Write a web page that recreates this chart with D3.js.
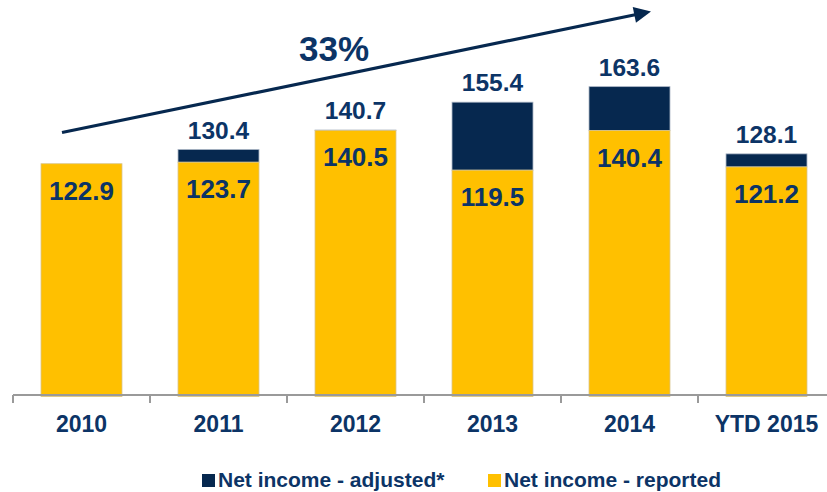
<!DOCTYPE html>
<html>
<head>
<meta charset="utf-8">
<script src="https://cdn.jsdelivr.net/npm/d3@7"></script>
<style>
  html, body { margin: 0; padding: 0; background: #fff; }
  svg { display: block; font-family: "Liberation Sans", Arial, sans-serif; }
</style>
</head>
<body>
<svg id="chart" width="827" height="492"></svg>
<script>
// Net income by year, in millions
const years = ["2010", "2011", "2012", "2013", "2014", "YTD 2015"];
const reported = [122.9, 123.7, 140.5, 119.5, 140.4, 121.2];
const adjusted = [null, 130.4, 140.7, 155.4, 163.6, 128.1];
const growthLabel = "33%";
const legendLabels = ["Net income - adjusted*", "Net income - reported"];

const NAVY = "#06284f";
const YELLOW = "#ffc000";
const TEXT = "#0c3466";

const svg = d3.select("#chart");

const x = d3.scaleBand()
  .domain(years)
  .range([13, 835])
  .paddingInner(0.409)
  .paddingOuter(0.2045);

const y = d3.scaleLinear().domain([0, 200]).range([396.5, 17.7]);

const rows = years.map((yr, i) => ({ yr, rep: reported[i], adj: adjusted[i] }));

// adjusted portion on top of reported
svg.append("g").selectAll("rect")
  .data(rows.filter(d => d.adj != null))
  .join("rect")
  .attr("x", d => x(d.yr))
  .attr("width", x.bandwidth())
  .attr("y", d => y(d.adj))
  .attr("height", d => y(d.rep) - y(d.adj))
  .attr("fill", NAVY)
  .attr("stroke", "#a9b4c4")
  .attr("stroke-width", 0.8);

// reported bars
svg.append("g").selectAll("rect")
  .data(rows)
  .join("rect")
  .attr("x", d => x(d.yr))
  .attr("width", x.bandwidth())
  .attr("y", d => y(d.rep))
  .attr("height", d => y(0) - y(d.rep))
  .attr("fill", YELLOW)
  .attr("stroke", "#d9c48a")
  .attr("stroke-width", 0.8);

// axis baseline with ticks at category boundaries
const step = x.step();
const gap = step * x.paddingInner() / 2;
const axisY = 395;
svg.append("line")
  .attr("x1", x(years[0]) - gap).attr("x2", 827)
  .attr("y1", axisY).attr("y2", axisY)
  .attr("stroke", "#9a9a9a").attr("stroke-width", 2);
svg.append("g").selectAll("line")
  .data(years)
  .join("line")
  .attr("x1", d => x(d) - gap).attr("x2", d => x(d) - gap)
  .attr("y1", axisY).attr("y2", axisY + 8)
  .attr("stroke", "#9a9a9a").attr("stroke-width", 2);

// category labels
const xAxis = svg.append("g")
  .attr("transform", `translate(0,${axisY})`)
  .call(d3.axisBottom(x).tickSize(0).tickPadding(0));
xAxis.select(".domain").remove();
xAxis.selectAll("text")
  .attr("y", 37)
  .attr("dy", null)
  .attr("fill", TEXT)
  .style("font-size", "23px")
  .style("font-weight", "bold")
  .style("font-family", "'Liberation Sans', Arial, sans-serif");

// total labels above bars
svg.append("g").selectAll("text")
  .data(rows.filter(d => d.adj != null))
  .join("text")
  .attr("x", d => x(d.yr) + x.bandwidth() / 2)
  .attr("y", d => y(d.adj) - 11)
  .attr("text-anchor", "middle")
  .attr("fill", TEXT)
  .style("font-size", "24.5px")
  .style("font-weight", "bold")
  .text(d => d.adj.toFixed(1));

// reported labels inside bars
svg.append("g").selectAll("text")
  .data(rows)
  .join("text")
  .attr("x", d => x(d.yr) + x.bandwidth() / 2)
  .attr("y", d => y(d.rep) + 36)
  .attr("text-anchor", "middle")
  .attr("fill", TEXT)
  .style("font-size", "26px")
  .style("font-weight", "bold")
  .text(d => d.rep.toFixed(1));

// growth arrow
const ax0 = 62, ay0 = 132.5, ax1 = 651, ay1 = 11.5;
const ang = Math.atan2(ay1 - ay0, ax1 - ax0);
const headLen = 17, headHalf = 8;
const bx = ax1 - headLen * Math.cos(ang), by = ay1 - headLen * Math.sin(ang);
svg.append("line")
  .attr("x1", ax0).attr("y1", ay0)
  .attr("x2", bx + 2 * Math.cos(ang)).attr("y2", by + 2 * Math.sin(ang))
  .attr("stroke", NAVY).attr("stroke-width", 3.2);
svg.append("path")
  .attr("d", d3.line()([
    [ax1, ay1],
    [bx - headHalf * Math.sin(ang), by + headHalf * Math.cos(ang)],
    [bx + headHalf * Math.sin(ang), by - headHalf * Math.cos(ang)]
  ]) + "Z")
  .attr("fill", NAVY);

svg.append("text")
  .attr("x", 334).attr("y", 60.5)
  .attr("text-anchor", "middle")
  .attr("fill", TEXT)
  .style("font-size", "35px")
  .style("font-weight", "bold")
  .text(growthLabel);

// legend
const legend = svg.append("g");
const legendItems = [
  { label: legendLabels[0], color: NAVY, x: 202 },
  { label: legendLabels[1], color: YELLOW, x: 488 }
];
legendItems.forEach(it => {
  legend.append("rect")
    .attr("x", it.x).attr("y", 474)
    .attr("width", 13).attr("height", 13)
    .attr("fill", it.color);
  legend.append("text")
    .attr("x", it.x + 16).attr("y", 487)
    .attr("fill", TEXT)
    .style("font-size", "21px")
    .style("font-weight", "bold")
    .text(it.label);
});
</script>
</body>
</html>
